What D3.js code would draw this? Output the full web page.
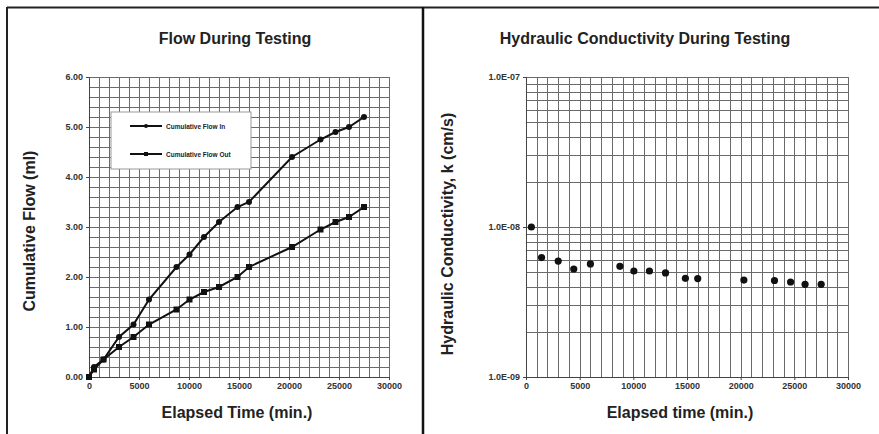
<!DOCTYPE html>
<html>
<head>
<meta charset="utf-8">
<script src="https://cdn.jsdelivr.net/npm/d3@7"></script>
<style>
body { margin:0; background:#fff; }
svg { display:block; font-family: Arial, "Liberation Sans", sans-serif; }
.tick text { font-size:9px; font-weight:bold; fill:#333; }
</style>
</head>
<body>
<svg id="chart"></svg>
<script>
// elapsed time of each reading (min.)
var times = [0, 500, 1450, 3000, 4450, 6000, 8750, 10050, 11500, 13000, 14850, 16000, 20300, 23150, 24650, 26000, 27500]
var flowIn = [0, 0.2, 0.35, 0.8, 1.05, 1.55, 2.2, 2.45, 2.8, 3.1, 3.4, 3.5, 4.4, 4.75, 4.9, 5.0, 5.2]
var flowOut = [0, 0.15, 0.35, 0.6, 0.8, 1.05, 1.35, 1.55, 1.7, 1.8, 2.0, 2.2, 2.6, 2.95, 3.1, 3.2, 3.4]
// hydraulic conductivity, no reading at time 0
var kTimes = [500, 1450, 3000, 4450, 6000, 8750, 10050, 11500, 13000, 14850, 16000, 20300, 23150, 24650, 26000, 27500]
var kValues = [1.0e-8, 6.25e-9, 5.93e-9, 5.25e-9, 5.67e-9, 5.47e-9, 5.09e-9, 5.09e-9, 4.94e-9, 4.55e-9, 4.53e-9, 4.43e-9, 4.4e-9, 4.3e-9, 4.15e-9, 4.15e-9]
var xTicks = [0, 5000, 10000, 15000, 20000, 25000, 30000]
var flowTicks = [0, 1, 2, 3, 4, 5, 6]
var kTicks = [1e-9, 1e-8, 1e-7]
var legendNames = ["Cumulative Flow In", "Cumulative Flow Out"]

var screen = {width:879, height:434}
var gridColor = "#6a6a6a"

var svg = d3.select("#chart")
    .attr("width", screen.width)
    .attr("height", screen.height)

// panel borders
svg.append("line").attr("x1", 7).attr("x2", 879).attr("y1", 7.5).attr("y2", 7.5)
    .attr("stroke", "#222").attr("stroke-width", 2)
svg.append("line").attr("x1", 7).attr("x2", 7).attr("y1", 7).attr("y2", 434)
    .attr("stroke", "#222").attr("stroke-width", 2)
svg.append("line").attr("x1", 423).attr("x2", 423).attr("y1", 7).attr("y2", 434)
    .attr("stroke", "#111").attr("stroke-width", 2.5)

// ---------- left chart: flow ----------
var xFlow = d3.scaleLinear().domain([0, 30000]).range([89, 389])
var yFlow = d3.scaleLinear().domain([0, 6]).range([377, 77])

var left = svg.append("g").attr("id", "flow")

left.append("g").selectAll("line")
    .data(d3.range(0, 30001, 1000))
    .enter().append("line")
    .attr("x1", function(d){ return Math.round(xFlow(d)) + 0.5 })
    .attr("x2", function(d){ return Math.round(xFlow(d)) + 0.5 })
    .attr("y1", yFlow(6)).attr("y2", yFlow(0))
    .attr("stroke", gridColor).attr("stroke-width", 1)

left.append("g").selectAll("line")
    .data(d3.range(0, 31).map(function(i){ return i * 0.2 }))
    .enter().append("line")
    .attr("y1", function(d){ return Math.round(yFlow(d)) + 0.5 })
    .attr("y2", function(d){ return Math.round(yFlow(d)) + 0.5 })
    .attr("x1", xFlow(0)).attr("x2", xFlow(30000))
    .attr("stroke", gridColor).attr("stroke-width", 1)

left.append("g")
    .attr("transform", "translate(0," + yFlow(0) + ")")
    .call(d3.axisBottom(xFlow).tickValues(xTicks).tickSize(3).tickFormat(d3.format("d")))
    .call(function(g){ g.select(".domain").attr("stroke", "#444") })
    .call(function(g){ g.selectAll(".tick line").attr("stroke", "#444") })

left.append("g")
    .attr("transform", "translate(" + xFlow(0) + ",0)")
    .call(d3.axisLeft(yFlow).tickValues(flowTicks).tickSize(3).tickFormat(d3.format(".2f")))
    .call(function(g){ g.select(".domain").attr("stroke", "#444") })
    .call(function(g){ g.selectAll(".tick line").attr("stroke", "#444") })

var line = d3.line()
    .x(function(d){ return xFlow(d[0]) })
    .y(function(d){ return yFlow(d[1]) })

var inData = times.map(function(t, i){ return [t, flowIn[i]] })
var outData = times.map(function(t, i){ return [t, flowOut[i]] })

left.append("path").datum(inData).attr("d", line)
    .attr("fill", "none").attr("stroke", "#111").attr("stroke-width", 2)
left.append("path").datum(outData).attr("d", line)
    .attr("fill", "none").attr("stroke", "#111").attr("stroke-width", 2)

left.append("g").selectAll("circle")
    .data(inData).enter().append("circle")
    .attr("cx", function(d){ return xFlow(d[0]) })
    .attr("cy", function(d){ return yFlow(d[1]) })
    .attr("r", 3).attr("fill", "#111")

left.append("g").selectAll("rect")
    .data(outData).enter().append("rect")
    .attr("x", function(d){ return xFlow(d[0]) - 3 })
    .attr("y", function(d){ return yFlow(d[1]) - 3 })
    .attr("width", 6).attr("height", 6).attr("fill", "#111")

// legend
var legend = left.append("g").attr("transform", "translate(111,112)")
legend.append("rect").attr("width", 140).attr("height", 57)
    .attr("fill", "#fff").attr("stroke", "#999").attr("stroke-width", 1)
var lg = legend.selectAll("g.item")
    .data(legendNames).enter().append("g")
    .attr("class", "item")
    .attr("transform", function(d, i){ return "translate(0," + (14 + i * 28) + ")" })
lg.append("line").attr("x1", 19).attr("x2", 51).attr("y1", 0).attr("y2", 0)
    .attr("stroke", "#111").attr("stroke-width", 2)
lg.each(function(d, i){
    var g = d3.select(this)
    if (i == 0) g.append("circle").attr("cx", 35).attr("cy", 0).attr("r", 2).attr("fill", "#111")
    else g.append("rect").attr("x", 33).attr("y", -2).attr("width", 4).attr("height", 4).attr("fill", "#111")
})
lg.append("text").attr("x", 55).attr("y", 2.5)
    .style("font-size", "6.5px").style("font-weight", "bold").attr("fill", "#222")
    .text(function(d){ return d })

left.append("text").attr("x", 235).attr("y", 44)
    .attr("text-anchor", "middle").style("font-size", "16px").style("font-weight", "bold")
    .attr("fill", "#222").text("Flow During Testing")
left.append("text").attr("x", 237).attr("y", 418)
    .attr("text-anchor", "middle").style("font-size", "16px").style("font-weight", "bold")
    .attr("fill", "#222").text("Elapsed Time (min.)")
left.append("text").attr("transform", "translate(35,231) rotate(-90)")
    .attr("text-anchor", "middle").style("font-size", "16px").style("font-weight", "bold")
    .attr("fill", "#222").text("Cumulative Flow (ml)")

// ---------- right chart: hydraulic conductivity ----------
var xK = d3.scaleLinear().domain([0, 30000]).range([526, 848])
var yK = d3.scaleLog().domain([1e-9, 1e-7]).range([377, 77])

var right = svg.append("g").attr("id", "conductivity")

right.append("g").selectAll("line")
    .data(d3.range(0, 30001, 1000))
    .enter().append("line")
    .attr("x1", function(d){ return Math.round(xK(d)) + 0.5 })
    .attr("x2", function(d){ return Math.round(xK(d)) + 0.5 })
    .attr("y1", yK(1e-7)).attr("y2", yK(1e-9))
    .attr("stroke", gridColor).attr("stroke-width", 1)

right.append("g").selectAll("line")
    .data(yK.ticks())
    .enter().append("line")
    .attr("y1", function(d){ return Math.round(yK(d)) + 0.5 })
    .attr("y2", function(d){ return Math.round(yK(d)) + 0.5 })
    .attr("x1", xK(0)).attr("x2", xK(30000))
    .attr("stroke", gridColor).attr("stroke-width", 1)

right.append("g")
    .attr("transform", "translate(0," + yK(1e-9) + ")")
    .call(d3.axisBottom(xK).tickValues(xTicks).tickSize(3).tickFormat(d3.format("d")))
    .call(function(g){ g.select(".domain").attr("stroke", "#444") })
    .call(function(g){ g.selectAll(".tick line").attr("stroke", "#444") })

right.append("g")
    .attr("transform", "translate(" + xK(0) + ",0)")
    .call(d3.axisLeft(yK).tickValues(kTicks).tickSize(3)
        .tickFormat(function(d){ return d.toExponential(1).toUpperCase().replace(/E-(\d)$/, "E-0$1") }))
    .call(function(g){ g.select(".domain").attr("stroke", "#444") })
    .call(function(g){ g.selectAll(".tick line").attr("stroke", "#444") })

right.append("g").selectAll("circle")
    .data(kTimes.map(function(t, i){ return [t, kValues[i]] }))
    .enter().append("circle")
    .attr("cx", function(d){ return xK(d[0]) })
    .attr("cy", function(d){ return yK(d[1]) })
    .attr("r", 3.6).attr("fill", "#111")

right.append("text").attr("x", 645).attr("y", 44)
    .attr("text-anchor", "middle").style("font-size", "16px").style("font-weight", "bold")
    .attr("fill", "#222").text("Hydraulic Conductivity During Testing")
right.append("text").attr("x", 680).attr("y", 418)
    .attr("text-anchor", "middle").style("font-size", "16px").style("font-weight", "bold")
    .attr("fill", "#222").text("Elapsed time (min.)")
right.append("text").attr("transform", "translate(453,234) rotate(-90)")
    .attr("text-anchor", "middle").style("font-size", "16px").style("font-weight", "bold")
    .attr("fill", "#222").text("Hydraulic Conductivity, k  (cm/s)")
</script>
</body>
</html>
